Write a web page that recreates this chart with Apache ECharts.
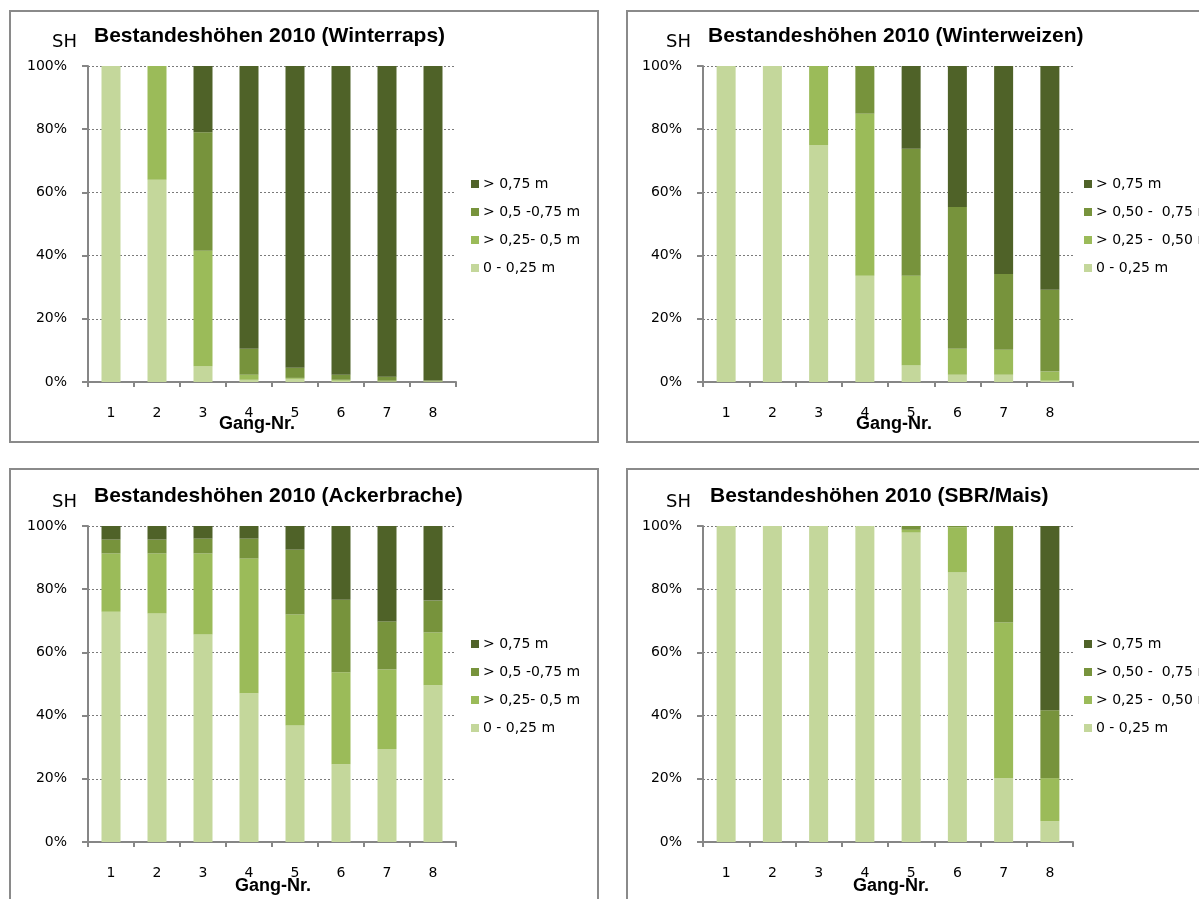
<!DOCTYPE html>
<html>
<head>
<meta charset="utf-8">
<script src="https://cdn.jsdelivr.net/npm/echarts@6/dist/echarts.min.js"></script>
<style>
  html, body { margin: 0; padding: 0; background: #ffffff; }
  #chart { width: 1199px; height: 899px; }
</style>
</head>
<body>
<div id="chart"></div>
<script>
// ---------- data ----------
const categories = ['1', '2', '3', '4', '5', '6', '7', '8'];
const yTicks = [0, 20, 40, 60, 80, 100];

const panelTitles = [
  'Bestandeshöhen 2010 (Winterraps)',
  'Bestandeshöhen 2010 (Winterweizen)',
  'Bestandeshöhen 2010 (Ackerbrache)',
  'Bestandeshöhen 2010 (SBR/Mais)'
];

// class names (bottom -> top) as shown in the legends
const classNamesA = ['0 - 0,25 m', '> 0,25- 0,5 m', '> 0,5 -0,75 m', '> 0,75 m'];
const classNamesB = ['0 - 0,25 m', '> 0,25 -  0,50 m', '> 0,50 -  0,75 m', '> 0,75 m'];

// Winterraps (%)
const raps_0_025   = [100, 64, 5,    0.7, 1.0, 0.4, 0.2, 0.2];
const raps_025_05  = [0,   36, 36.5, 1.6, 0.3, 0.3, 0.2, 0.2];
const raps_05_075  = [0,   0,  37.5, 8.2, 3.2, 1.6, 1.3, 0.1];
const raps_gt075   = [0,   0,  21,   89.5, 95.5, 97.7, 98.3, 99.5];

// Winterweizen (%)
const weizen_0_025  = [100, 100, 75, 33.6, 5.2,  2.3,  2.3,  0.4];
const weizen_025_05 = [0,   0,   25, 51.3, 28.4, 8.2,  7.9,  2.9];
const weizen_05_075 = [0,   0,   0,  15.1, 40.2, 44.9, 24.0, 25.9];
const weizen_gt075  = [0,   0,   0,  0,    26.2, 44.6, 65.8, 70.8];

// Ackerbrache (%)
const brache_0_025  = [72.9, 72.3, 65.7, 47.1, 36.9, 24.6, 29.4, 49.6];
const brache_025_05 = [18.4, 19.0, 25.6, 42.6, 35.1, 29.1, 25.2, 16.7];
const brache_05_075 = [4.4,  4.4,  4.7,  6.3,  20.5, 23.0, 15.2, 10.1];
const brache_gt075  = [4.3,  4.3,  4.0,  4.0,  7.5,  23.3, 30.2, 23.6];

// SBR/Mais (%)
const mais_0_025  = [100, 100, 100, 100, 97.9, 85.3, 20.2, 6.6];
const mais_025_05 = [0,   0,   0,   0,   0.9,  14.3, 49.3, 13.6];
const mais_05_075 = [0,   0,   0,   0,   1.2,  0.4,  30.5, 21.5];
const mais_gt075  = [0,   0,   0,   0,   0,    0,    0,    58.3];

// ---------- styling ----------
const classColors = ['#C4D79B', '#9BBB59', '#77933C', '#4F6228'];
const axisGray = '#868686';
const normalFont = 'DejaVu Sans';
const boldFont = 'Liberation Sans';

const panelData = [
  [raps_0_025, raps_025_05, raps_05_075, raps_gt075],
  [weizen_0_025, weizen_025_05, weizen_05_075, weizen_gt075],
  [brache_0_025, brache_025_05, brache_05_075, brache_gt075],
  [mais_0_025, mais_025_05, mais_05_075, mais_gt075]
];
const panelNames = [classNamesA, classNamesB, classNamesA, classNamesB];

// layout per panel
const layout = [
  { gl: 88,  gt: 66,  gw: 368, legX: 466,  legY: 172, titleX: 94,  titleY: 38,  shX: 52,  shY: 43,  gangX: 257, gangY: 424, box: [10, 11, 588, 431] },
  { gl: 703, gt: 66,  gw: 370, legX: 1079, legY: 172, titleX: 708, titleY: 38,  shX: 666, shY: 43,  gangX: 894, gangY: 424, box: [627, 11, 600, 431] },
  { gl: 88,  gt: 526, gw: 368, legX: 466,  legY: 632, titleX: 94,  titleY: 498, shX: 52,  shY: 503, gangX: 273, gangY: 886, box: [10, 469, 588, 460] },
  { gl: 703, gt: 526, gw: 370, legX: 1079, legY: 632, titleX: 710, titleY: 498, shX: 666, shY: 503, gangX: 891, gangY: 886, box: [627, 469, 600, 460] }
];

const grids = [], xAxes = [], yAxes = [], series = [], legends = [], graphics = [];

layout.forEach((L, p) => {
  grids.push({ left: L.gl, top: L.gt, width: L.gw, height: 316, containLabel: false });
  xAxes.push({
    type: 'category', gridIndex: p, data: categories,
    axisLine: { lineStyle: { color: axisGray, width: 2 } },
    axisTick: { show: true, length: 5, lineStyle: { color: axisGray, width: 2 } },
    axisLabel: { color: '#000', fontFamily: normalFont, fontSize: 14, margin: 24 },
    splitLine: { show: false }
  });
  yAxes.push({
    type: 'value', gridIndex: p, min: 0, max: 100, interval: 20,
    axisLine: { show: true, lineStyle: { color: axisGray, width: 2 } },
    axisTick: { show: true, length: 6, lineStyle: { color: axisGray, width: 2 } },
    axisLabel: { color: '#000', fontFamily: normalFont, fontSize: 14, margin: 21, formatter: '{value}%' },
    splitLine: { show: true, lineStyle: { color: '#7a7a7a', width: 1, type: [2, 2] } }
  });
  const names = panelNames[p];
  panelData[p].forEach((arr, k) => {
    series.push({
      type: 'bar', name: names[k], xAxisIndex: p, yAxisIndex: p,
      stack: 'panel' + p, data: arr, barWidth: 19,
      itemStyle: { color: classColors[k] },
      emphasis: { disabled: true },
      animation: false
    });
  });
  legends.push({
    orient: 'vertical', left: L.legX, top: L.legY,
    data: names.slice().reverse(),
    icon: 'rect', itemWidth: 8, itemHeight: 8, itemGap: 14,
    selectedMode: false,
    textStyle: { color: '#000', fontFamily: normalFont, fontSize: 14, padding: [0, 0, 0, -1] }
  });
  graphics.push({
    type: 'rect', silent: true, z: 0,
    shape: { x: L.box[0], y: L.box[1], width: L.box[2], height: L.box[3] },
    style: { fill: 'none', stroke: '#8a8a8a', lineWidth: 2 }
  });
  graphics.push({
    type: 'text', left: L.titleX, top: L.titleY - 12, silent: true,
    style: { text: panelTitles[p], fill: '#000', font: 'bold 21px "' + boldFont + '"' }
  });
  graphics.push({
    type: 'text', left: L.shX, top: L.shY - 10, silent: true,
    style: { text: 'SH', fill: '#000', font: '18px "' + normalFont + '"' }
  });
  graphics.push({
    type: 'text', x: L.gangX, y: L.gangY, silent: true,
    style: { text: 'Gang-Nr.', fill: '#000', font: 'bold 18px "' + boldFont + '"', align: 'center', verticalAlign: 'middle' }
  });
});

const chart = echarts.init(document.getElementById('chart'), null, { renderer: 'canvas' });
chart.setOption({
  animation: false,
  backgroundColor: '#ffffff',
  grid: grids,
  xAxis: xAxes,
  yAxis: yAxes,
  legend: legends,
  series: series,
  graphic: graphics
});
</script>
</body>
</html>
